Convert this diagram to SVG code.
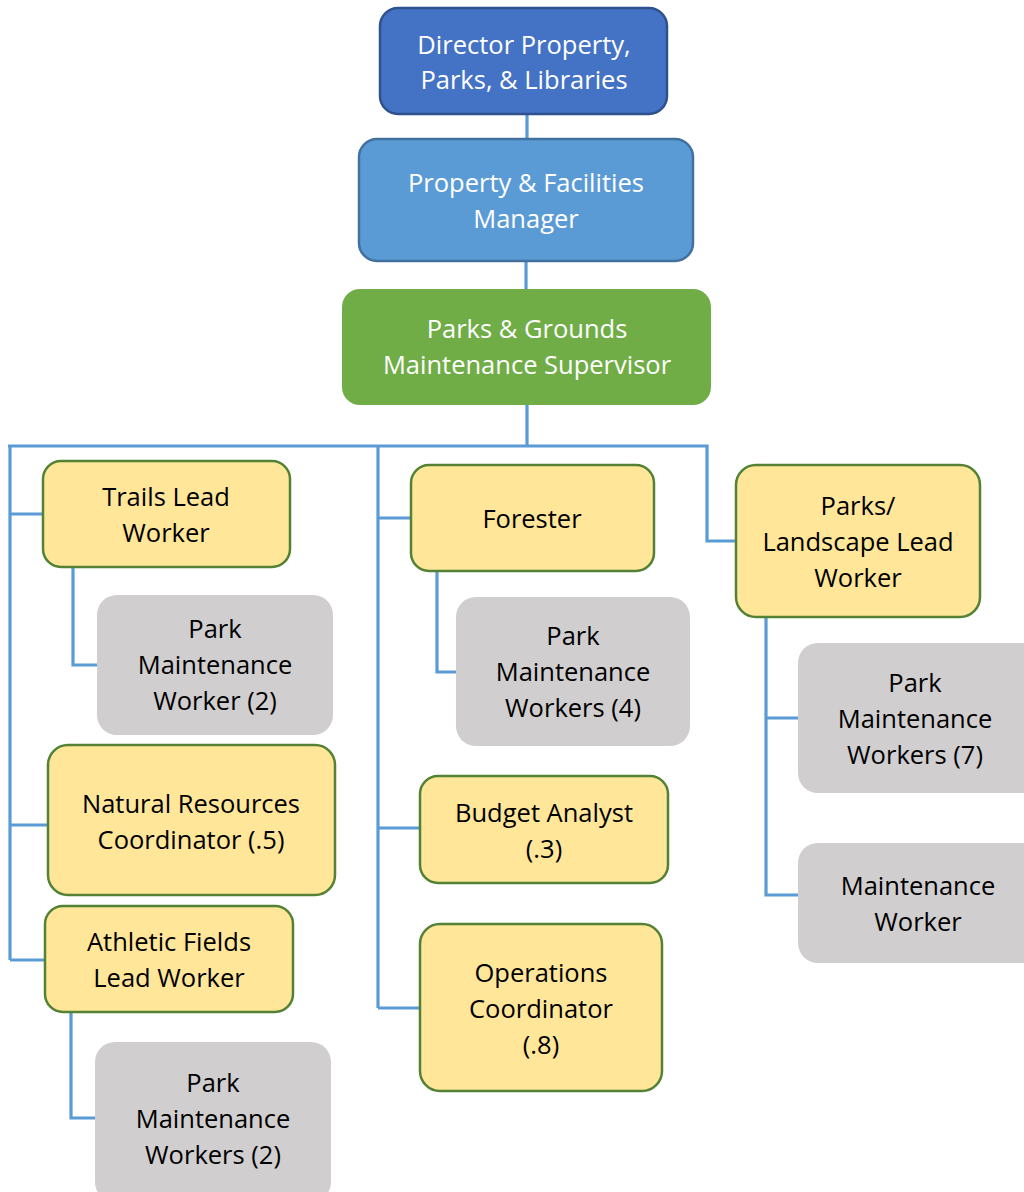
<svg xmlns="http://www.w3.org/2000/svg" width="1024" height="1192" viewBox="0 0 1024 1192">
<style>
.t{font-family:"Open Sans","Liberation Sans",sans-serif;font-size:25.5px;text-anchor:middle}
.w{fill:#ffffff}
.k{fill:#000000}
.y{fill:#FFE699;stroke:#548235;stroke-width:2.5}
.g{fill:#D0CECE}
.c{fill:none;stroke:#5B9BD5;stroke-width:3.2}
</style>
<rect width="1024" height="1192" fill="#ffffff"/>
<g id="connectors">
<path class="c" d="M527 114V139M526 261V289M527 405V446M8 446H707V541H736"/>
<path class="c" d="M10 446V960M10 514H43M10 825H48M10 960H45"/>
<path class="c" d="M378 446V1008M378 518H411M378 828H420M378 1008H420"/>
<path class="c" d="M73 567V665H97M71 1012V1118H95M437 571V672H456M766 617V895H798M766 718H798"/>
</g>
<g id="director">
<rect x="380" y="8" width="287" height="106" rx="18" fill="#4472C4" stroke="#2F528F" stroke-width="2.5"/>
<text class="t w" x="524" y="54">Director Property,</text>
<text class="t w" x="524" y="89">Parks, &amp; Libraries</text>
</g>
<g id="manager">
<rect x="359" y="139" width="334" height="122" rx="18" fill="#5B9BD5" stroke="#41719C" stroke-width="2.5"/>
<text class="t w" x="526" y="192">Property &amp; Facilities</text>
<text class="t w" x="526" y="228">Manager</text>
</g>
<g id="supervisor">
<rect x="342" y="289" width="369" height="116" rx="18" fill="#70AD47"/>
<text class="t w" x="527" y="338">Parks &amp; Grounds</text>
<text class="t w" x="527" y="374">Maintenance Supervisor</text>
</g>
<g id="trails">
<rect class="y" x="43" y="461" width="247" height="106" rx="18"/>
<text class="t k" x="166" y="506">Trails Lead</text>
<text class="t k" x="166" y="542">Worker</text>
</g>
<g id="trails-pmw">
<rect class="g" x="97" y="595" width="236" height="140" rx="20"/>
<text class="t k" x="215" y="638">Park</text>
<text class="t k" x="215" y="674">Maintenance</text>
<text class="t k" x="215" y="710">Worker (2)</text>
</g>
<g id="nrc">
<rect class="y" x="48" y="745" width="287" height="150" rx="20"/>
<text class="t k" x="191" y="813">Natural Resources</text>
<text class="t k" x="191" y="849">Coordinator (.5)</text>
</g>
<g id="athletic">
<rect class="y" x="45" y="906" width="248" height="106" rx="18"/>
<text class="t k" x="169" y="951">Athletic Fields</text>
<text class="t k" x="169" y="987">Lead Worker</text>
</g>
<g id="athletic-pmw">
<rect class="g" x="95" y="1042" width="236" height="160" rx="20"/>
<text class="t k" x="213" y="1092">Park</text>
<text class="t k" x="213" y="1128">Maintenance</text>
<text class="t k" x="213" y="1164">Workers (2)</text>
</g>
<g id="forester">
<rect class="y" x="411" y="465" width="243" height="106" rx="18"/>
<text class="t k" x="532" y="528">Forester</text>
</g>
<g id="forester-pmw">
<rect class="g" x="456" y="597" width="234" height="149" rx="20"/>
<text class="t k" x="573" y="645">Park</text>
<text class="t k" x="573" y="681">Maintenance</text>
<text class="t k" x="573" y="717">Workers (4)</text>
</g>
<g id="budget">
<rect class="y" x="420" y="776" width="248" height="107" rx="18"/>
<text class="t k" x="544" y="822">Budget Analyst</text>
<text class="t k" x="544" y="858">(.3)</text>
</g>
<g id="operations">
<rect class="y" x="420" y="924" width="242" height="167" rx="20"/>
<text class="t k" x="541" y="982">Operations</text>
<text class="t k" x="541" y="1018">Coordinator</text>
<text class="t k" x="541" y="1054">(.8)</text>
</g>
<g id="landscape">
<rect class="y" x="736" y="465" width="244" height="152" rx="20"/>
<text class="t k" x="858" y="515">Parks/</text>
<text class="t k" x="858" y="551">Landscape Lead</text>
<text class="t k" x="858" y="587">Worker</text>
</g>
<g id="landscape-pmw">
<rect class="g" x="798" y="643" width="246" height="150" rx="20"/>
<text class="t k" x="915" y="692">Park</text>
<text class="t k" x="915" y="728">Maintenance</text>
<text class="t k" x="915" y="764">Workers (7)</text>
</g>
<g id="maintenance-worker">
<rect class="g" x="798" y="843" width="246" height="120" rx="20"/>
<text class="t k" x="918" y="895">Maintenance</text>
<text class="t k" x="918" y="931">Worker</text>
</g>
</svg>
